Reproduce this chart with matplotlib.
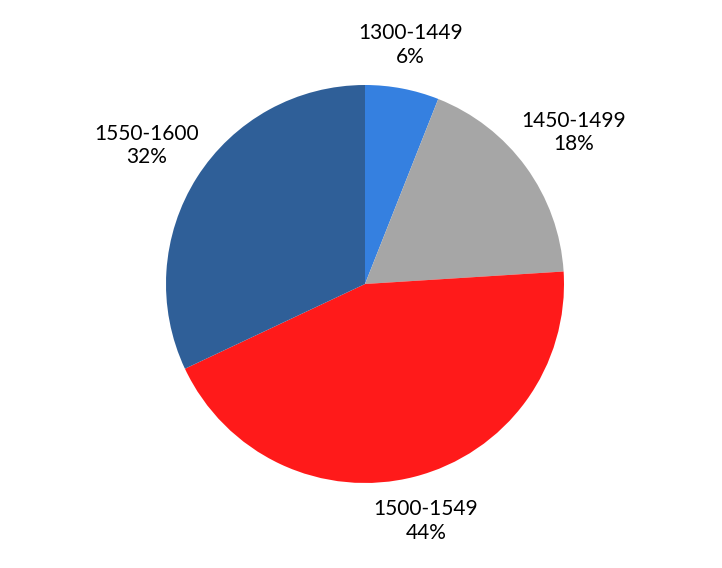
import numpy as np
import matplotlib
matplotlib.use('Agg')
import matplotlib.pyplot as plt

# period shares of the total, clockwise from 12 o'clock
periods = ["1300-1449", "1450-1499", "1500-1549", "1550-1600"]
shares = [6, 18, 44, 32]
colors = ["#3580E0", "#A6A6A6", "#FF1A1A", "#2F5F98"]

plt.rcParams['font.family'] = ['Lato', 'DejaVu Sans']

fig = plt.figure(figsize=(7.22, 5.68), dpi=100)
ax = fig.add_axes([0, 0, 1, 1])

wedges, _ = ax.pie(shares, colors=colors, startangle=90, counterclock=False,
                   radius=1.0, wedgeprops=dict(linewidth=0))

total = float(sum(shares))
for w, name, val in zip(wedges, periods, shares):
    mid = np.deg2rad((w.theta1 + w.theta2) / 2.0)
    dist = 1.2 + 0.12 * abs(np.cos(mid))
    ax.text(dist * np.cos(mid), dist * np.sin(mid),
            "%s\n%d%%" % (name, round(100 * val / total)),
            ha='center', va='center', fontsize=15, linespacing=1.2)

# pie centre at (365, 284) px, radius 199 px
ax.set_aspect('auto')
ax.set_xlim(-365 / 199.0, (722 - 365) / 199.0)
ax.set_ylim(-284 / 199.0, 284 / 199.0)
ax.axis('off')

fig.savefig('out.png', dpi=100)
